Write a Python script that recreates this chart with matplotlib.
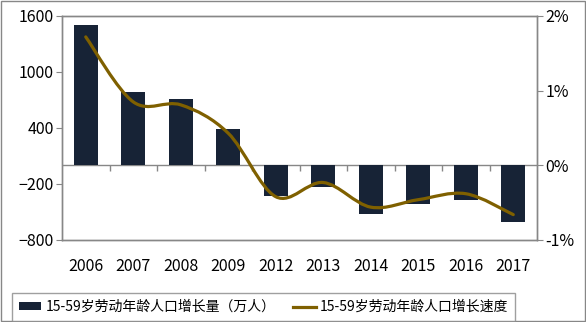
import matplotlib
matplotlib.use("Agg")
import matplotlib.pyplot as plt
import numpy as np
from matplotlib.path import Path
from matplotlib.patches import PathPatch
from matplotlib.lines import Line2D
from matplotlib.patches import Patch

plt.rcParams['font.family'] = ['Noto Sans CJK SC', 'DejaVu Sans']

years = ['2006', '2007', '2008', '2009', '2012', '2013', '2014', '2015', '2016', '2017']
growth = [1503, 785, 710, 389, -326, -229, -518, -415, -372, -604]      # 万人
rate = [1.72, 0.85, 0.81, 0.43, -0.42, -0.23, -0.56, -0.46, -0.38, -0.66]  # %

bar_color = '#172336'
line_color = '#7F6000'
grey = '#878787'

fig = plt.figure(figsize=(5.86, 3.22), dpi=100)
ax = fig.add_axes([62 / 586, 1 - 240 / 322, 475 / 586, 224 / 322])
ax2 = ax.twinx()

x = np.arange(len(years))
ax.bar(x, growth, width=0.5, color=bar_color, zorder=2)
ax.set_xlim(-0.5, len(years) - 0.5)
ax.set_ylim(-800, 1600)
ax.set_yticks([-800, -200, 400, 1000, 1600])
ax.axhline(0, color=grey, lw=1, zorder=1)
ax.vlines(x[:-1] + 0.5, -65, 0, color=grey, lw=1, zorder=1)

ax.set_xticks(x)
ax.set_xticklabels(years)
ax.tick_params(axis='x', length=0, pad=13, labelsize=11.5)
ax.tick_params(axis='y', length=4, color=grey, labelsize=11.5, pad=2)

ax2.set_ylim(-1, 2)
ax2.set_yticks([-1, 0, 1, 2])
ax2.set_yticklabels(['-1%', '0%', '1%', '2%'])
ax2.tick_params(axis='y', length=4, color=grey, labelsize=11.5, pad=2)

for a in (ax, ax2):
    for s in a.spines.values():
        s.set_color(grey)
        s.set_linewidth(1)

# smoothed line (Catmull-Rom style, like Excel's smoothed lines)
pts = np.column_stack([x, rate]).astype(float)
ext = np.vstack([pts[0], pts, pts[-1]])
verts = [tuple(pts[0])]
codes = [Path.MOVETO]
for i in range(len(pts) - 1):
    p0, p1, p2, p3 = ext[i], ext[i + 1], ext[i + 2], ext[i + 3]
    c1 = p1 + (p2 - p0) / 6
    c2 = p2 - (p3 - p1) / 6
    verts += [tuple(c1), tuple(c2), tuple(p2)]
    codes += [Path.CURVE4] * 3
ax2.add_patch(PathPatch(Path(verts, codes), fill=False, edgecolor=line_color,
                        lw=2.3, capstyle='round', zorder=3))

handles = [Patch(facecolor=bar_color, edgecolor='none'),
           Line2D([0], [0], color=line_color, lw=2.3)]
labels = ['15-59岁劳动年龄人口增长量（万人）', '15-59岁劳动年龄人口增长速度']
leg = fig.legend(handles, labels, loc='lower left',
                 bbox_to_anchor=(12 / 586, 1 / 322, 503 / 586, 33 / 322),
                 mode='expand', ncol=2, fontsize=10, frameon=True,
                 fancybox=False, edgecolor=grey, handlelength=1.6,
                 handleheight=0.5, handletextpad=0.3, borderaxespad=0,
                 borderpad=0.5, columnspacing=1.5)
leg.get_frame().set_linewidth(1)

fig.patches.append(plt.Rectangle((0.002, 0.003), 0.996, 0.994, transform=fig.transFigure,
                                 fill=False, edgecolor=grey, lw=1))

fig.savefig('out.png', dpi=100)
